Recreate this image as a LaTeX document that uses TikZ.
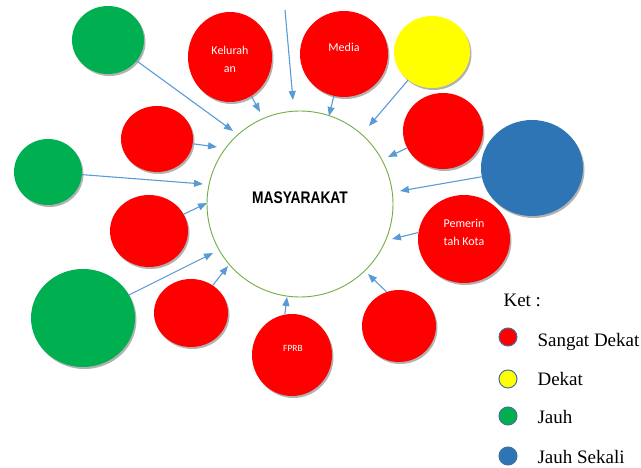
\documentclass[tikz,border=0pt]{standalone}
\usepackage{fontspec}
\setmainfont{Liberation Serif}
\newfontfamily\calibrifont{Carlito}
\newfontfamily\narrowfont[FakeStretch=0.82]{Liberation Sans}
\usetikzlibrary{arrows.meta,shapes.geometric,shadows}
\definecolor{sangatdekat}{HTML}{FF0000}
\definecolor{dekat}{HTML}{FFFF00}
\definecolor{jauh}{HTML}{00B050}
\definecolor{jauhsekali}{HTML}{2E75B6}
\definecolor{arrowblue}{HTML}{5B9BD5}
\definecolor{ringgreen}{HTML}{70AD47}
\definecolor{dotline}{HTML}{41719C}

\begin{document}
\begin{tikzpicture}[x=1pt,y=-1pt,
    ball/.style={ellipse,inner sep=0pt,
        drop shadow={shadow xshift=1.5pt,shadow yshift=-2pt,fill=black,opacity=0.3}},
    balltext/.style={text=white,font=\calibrifont\fontsize{12}{18}\selectfont,align=center},
    legenddot/.style={circle,draw=dotline,line width=1pt,minimum size=18pt,inner sep=0pt},
    legendtext/.style={anchor=base west,font=\fontsize{19}{22}\selectfont}]
    \useasboundingbox (0,0) rectangle (641,468);

    % pusat
    \node (masy) [circle,draw=ringgreen,line width=0.9pt,minimum size=186pt] at (300,204) {};
    \node (masy-t) [font=\narrowfont\bfseries\fontsize{16.8}{18}\selectfont] at (300,198) {MASYARAKAT};

    \begin{scope}[every node/.style={ball,fill=sangatdekat}]
        \node (kel) [minimum width=84pt,minimum height=90pt] at (230,57) {};
        \node (media) [minimum width=88pt,minimum height=86pt] at (344,54) {};
        \node (r6) [minimum width=80pt,minimum height=76pt] at (443,131) {};
        \node (pem) [minimum width=92pt,minimum height=88pt] at (464,239) {};
        \node (r9) [minimum width=74pt,minimum height=72pt] at (399,326) {};
        \node (fprb) [minimum width=80pt,minimum height=82pt] at (292,355) {};
        \node (r11) [minimum width=74pt,minimum height=68pt] at (191,313) {};
        \node (r13) [minimum width=78pt,minimum height=72pt] at (149,231) {};
        \node (r15) [minimum width=72pt,minimum height=66pt] at (157,139) {};
    \end{scope}

    \begin{scope}[every node/.style={ball,fill=jauh}]
        \node (g1) [minimum width=72pt,minimum height=68pt] at (108,40) {};
        \node (g14) [minimum width=68pt,minimum height=66pt] at (48,172) {};
        \node (g12) [minimum width=104pt,minimum height=98pt] at (83,318) {};
    \end{scope}

    \node (yel) [ball,fill=dekat,minimum width=76pt,minimum height=72pt] at (432,52) {};
    \node (blue) [ball,fill=jauhsekali,minimum width=102pt,minimum height=96pt] at (532,168) {};

    % tulisan
    \node (kel-t) [balltext] at (230,59) {Kelurah\\an};
    \node (media-t) [balltext] at (344,47) {Media};
    \node (pem-t) [balltext] at (464,232) {Pemerin\\tah Kota};
    \node (fprb-t) [balltext,font=\calibrifont\fontsize{9.5}{11}\selectfont] at (293,348) {FPRB};

    % ujung panah
    \coordinate (top) at (285,10);
    \coordinate (e1) at (233,131);
    \coordinate (e2) at (260,112);
    \coordinate (e3) at (293,100);
    \coordinate (e4) at (329,116);
    \coordinate (e5) at (369,126);
    \coordinate (e6) at (388,157);
    \coordinate (e7) at (400,191);
    \coordinate (e8) at (392,239);
    \coordinate (e9) at (368,274);
    \coordinate (e10) at (287,297);
    \coordinate (e11) at (228,266);
    \coordinate (e12) at (213,253);
    \coordinate (e13) at (207,203);
    \coordinate (e14) at (203,184);
    \coordinate (e15) at (217,147);

    \begin{scope}[>={Triangle[length=9pt,width=7pt]},
                  every edge/.style={draw=arrowblue,line width=1.1pt}]
        \path [->] (g1) edge (e1);
        \path [->] (kel) edge (e2);
        \path [->] (top) edge (e3);
        \path [->] (media) edge (e4);
        \path [->] (yel) edge (e5);
        \path [->] (r6) edge (e6);
        \path [->] (blue) edge (e7);
        \path [->] (pem.172) edge (e8);
        \path [->] (r9.110) edge (e9);
        \path [->] (fprb.100) edge (e10);
        \path [->] (r11) edge (e11);
        \path [->] (g12) edge (e12);
        \path [->] (r13) edge (e13);
        \path [->] (g14) edge (e14);
        \path [->] (r15) edge (e15);
    \end{scope}

    % keterangan
    \node (ket) [legendtext] at (500,307) {Ket :};
    \node (d1) [legenddot,fill=sangatdekat] at (508,337) {};
    \node (d2) [legenddot,fill=dekat] at (508,379) {};
    \node (d3) [legenddot,fill=jauh] at (508,416) {};
    \node (d4) [legenddot,fill=jauhsekali] at (508,456) {};
    \node (d1-t) [legendtext] at (534,346) {Sangat Dekat};
    \node (d2-t) [legendtext] at (534,385) {Dekat};
    \node (d3-t) [legendtext] at (534,423) {Jauh};
    \node (d4-t) [legendtext] at (534,463) {Jauh Sekali};
\end{tikzpicture}
\end{document}
